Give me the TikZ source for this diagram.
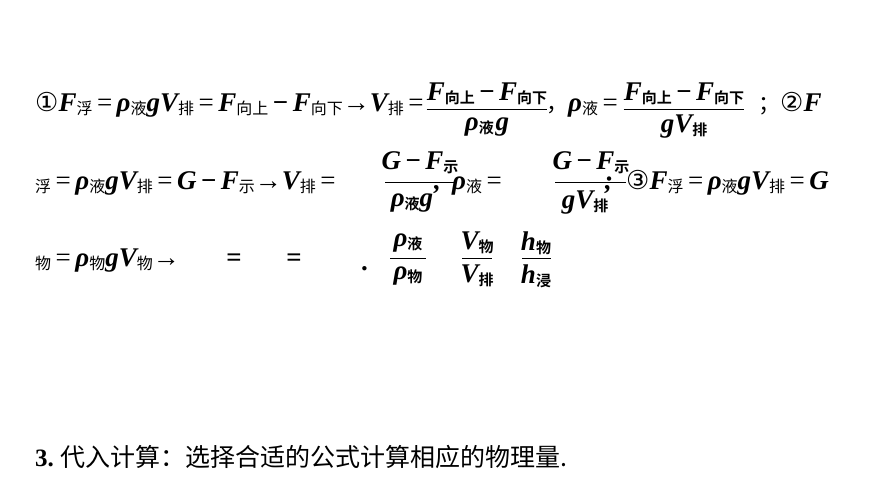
\documentclass[tikz,border=0pt]{standalone}
\usepackage{fontspec}
\setmainfont{Liberation Serif}
\newfontfamily\cjk{Noto Sans CJK SC}[BoldFont={* Bold}]
\newfontfamily\djv{DejaVu Sans}
\newcommand{\Lv}[1]{{\fontsize{27}{27}\selectfont\bfseries\itshape #1}}
\newcommand{\Sb}[1]{\raisebox{-3pt}{\fontsize{16}{16}\selectfont\cjk #1}}
\newcommand{\Sbb}[1]{\raisebox{-3pt}{\fontsize{15}{15}\selectfont\cjk\bfseries #1}}
\newcommand{\Eq}{{\fontsize{27}{27}\selectfont\,=\,}}
\newcommand{\Mi}{{\fontsize{27}{27}\selectfont\bfseries\,−\,}}
\newcommand{\Ar}{{\fontsize{27}{27}\selectfont →}}
\newcommand{\Ci}[1]{{\fontsize{26}{26}\selectfont\djv #1}}
\begin{document}
\begin{tikzpicture}[x=1pt,y=-1pt,txt/.style={anchor=base west,inner sep=0pt},fr/.style={anchor=center,inner sep=0pt},bar/.style={line width=1pt}]
\useasboundingbox (0,0) rectangle (870,489);
% line 1
\node[txt] (a1) at (35,112) {\Ci{①}\Lv{F}\Sb{浮}\Eq\Lv{ρ}\Sb{液}\Lv{gV}\Sb{排}\Eq\Lv{F}\Sb{向上}\Mi\Lv{F}\Sb{向下}\Ar\Lv{V}\Sb{排}\Eq};
\node[fr] (n1) at (487,94) {\Lv{F}\Sbb{向上}\Mi\Lv{F}\Sbb{向下}};
\node[fr] (d1) at (487,127) {\Lv{ρ}\Sbb{液}\,\Lv{g}};
\draw[bar] (n1.south west |- 0,110) -- (n1.south east |- 0,110);
\node[txt] (a2) at (546,112) {{\fontsize{22}{22}\selectfont\cjk ，}\Lv{ρ}\Sb{液}\Eq};
\node[fr] (n2) at (684,94) {\Lv{F}\Sbb{向上}\Mi\Lv{F}\Sbb{向下}};
\node[fr] (d2) at (684,127) {\Lv{gV}\Sbb{排}};
\draw[bar] (n2.south west |- 0,110) -- (n2.south east |- 0,110);
\node[txt] (a3) at (758,112) {{\fontsize{22}{22}\selectfont\cjk ；}\Ci{②}\Lv{F}};
% line 2
\node[txt] (b1) at (35,190) {\Sb{浮}\Eq\Lv{ρ}\Sb{液}\Lv{gV}\Sb{排}\Eq\Lv{G}\Mi\Lv{F}\Sb{示}\Ar\Lv{V}\Sb{排}\Eq};
\node[fr] (n3) at (420,163) {\Lv{G}\Mi\Lv{F}\Sbb{示}};
\node[fr] (d3) at (412,203) {\Lv{ρ}\Sbb{液}\Lv{g}};
\draw[bar] (385,183) -- (455,183);
\node[txt] (b2) at (434,190) {\Lv{,}};
\node[txt] (b3) at (452,190) {\Lv{ρ}\Sb{液}\Eq};
\node[fr] (n4) at (591,163) {\Lv{G}\Mi\Lv{F}\Sbb{示}};
\node[fr] (d4) at (585,203) {\Lv{gV}\Sbb{排}};
\draw[bar] (555,183) -- (626,183);
\node[txt] (b4) at (604,190) {\Lv{;}};
\node[txt] (b5) at (626,190) {\Ci{③}\Lv{F}\Sb{浮}\Eq\Lv{ρ}\Sb{液}\Lv{gV}\Sb{排}\Eq\Lv{G}};
% line 3
\node[txt] (c1) at (35,266) {\Sb{物}\Eq\Lv{ρ}\Sb{物}\Lv{gV}\Sb{物}\Ar};
\node[txt] (c2) at (226,266) {\Lv{=}};
\node[txt] (c3) at (286,266) {\Lv{=}};
\node[txt] (c4) at (362,270) {\Lv{.}};
\node[fr] (n5) at (408,243) {\Lv{ρ}\Sbb{液}};
\node[fr] (d5) at (408,276) {\Lv{ρ}\Sbb{物}};
\draw[bar] (390,258) -- (426,258);
\node[fr] (n6) at (477,243) {\Lv{V}\Sbb{物}};
\node[fr] (d6) at (477,276) {\Lv{V}\Sbb{排}};
\draw[bar] (462,258) -- (492,258);
\node[fr] (n7) at (536,243) {\Lv{h}\Sbb{物}};
\node[fr] (d7) at (536,276) {\Lv{h}\Sbb{浸}};
\draw[bar] (522,258) -- (551,258);
% bottom
\node[txt] (e1) at (35,466) {{\fontsize{25}{25}\selectfont\bfseries 3.\ }{\fontsize{25}{25}\selectfont\cjk 代入计算：选择合适的公式计算相应的物理量.}};
\end{tikzpicture}
\end{document}
